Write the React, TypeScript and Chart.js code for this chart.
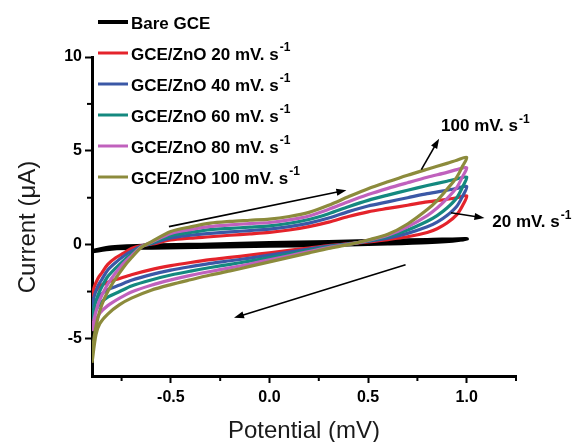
import React, { useEffect, useRef } from 'react';
import { Chart, registerables } from 'chart.js';
Chart.register(...registerables);

// ---- data (potential in mV axis units, current in µA) ----
const forwardPotential = [-0.9, -0.89, -0.87, -0.85, -0.82, -0.78, -0.74, -0.7, -0.65, -0.6, -0.5, -0.4, -0.3, -0.2, -0.1, 0.0, 0.1, 0.2, 0.3, 0.4, 0.5, 0.6, 0.7, 0.8, 0.9, 0.95, 1.0];
const reversePotential = [1.0, 0.98, 0.95, 0.9, 0.85, 0.8, 0.7, 0.6, 0.5, 0.4, 0.3, 0.2, 0.1, 0.0, -0.1, -0.2, -0.3, -0.4, -0.5, -0.6, -0.7, -0.76, -0.82, -0.86, -0.88, -0.9];

const fwd20 = [-2.8, -2.3, -1.8, -1.5, -1.05, -0.7, -0.45, -0.2, -0.05, 0.02, 0.25, 0.35, 0.42, 0.5, 0.57, 0.65, 0.78, 0.96, 1.2, 1.5, 1.75, 1.93, 2.1, 2.28, 2.42, 2.5, 2.6];
const rev20 = [2.6, 2.1, 1.6, 1.15, 0.85, 0.65, 0.42, 0.27, 0.15, 0.05, -0.05, -0.18, -0.3, -0.43, -0.56, -0.68, -0.8, -0.95, -1.12, -1.33, -1.6, -1.8, -2.0, -2.2, -2.45, -2.8];
const fwd40 = [-3.4, -2.8, -2.2, -1.85, -1.35, -0.95, -0.62, -0.35, -0.08, 0.05, 0.36, 0.5, 0.6, 0.68, 0.75, 0.83, 0.96, 1.15, 1.42, 1.76, 2.06, 2.28, 2.5, 2.72, 2.9, 3.0, 3.1];
const rev40 = [3.1, 2.6, 2.05, 1.55, 1.2, 0.95, 0.6, 0.35, 0.18, 0.04, -0.08, -0.24, -0.4, -0.56, -0.72, -0.86, -1.0, -1.17, -1.36, -1.6, -1.9, -2.15, -2.4, -2.7, -3.0, -3.4];
const fwd60 = [-4.0, -3.4, -2.7, -2.25, -1.7, -1.25, -0.85, -0.5, -0.1, 0.08, 0.48, 0.65, 0.8, 0.87, 0.93, 1.0, 1.14, 1.34, 1.65, 2.02, 2.36, 2.64, 2.9, 3.15, 3.38, 3.5, 3.6];
const rev60 = [3.6, 3.1, 2.5, 1.95, 1.55, 1.25, 0.78, 0.43, 0.2, 0.03, -0.11, -0.3, -0.5, -0.69, -0.88, -1.05, -1.22, -1.41, -1.62, -1.88, -2.2, -2.5, -2.8, -3.15, -3.5, -4.0];
const fwd80 = [-4.6, -4.0, -3.2, -2.7, -2.1, -1.5, -1.0, -0.6, -0.12, 0.12, 0.6, 0.8, 0.97, 1.05, 1.12, 1.18, 1.32, 1.53, 1.88, 2.29, 2.67, 3.0, 3.3, 3.59, 3.85, 4.0, 4.1];
const rev80 = [4.1, 3.65, 3.05, 2.45, 1.95, 1.55, 0.95, 0.5, 0.23, 0.02, -0.15, -0.37, -0.59, -0.81, -1.03, -1.24, -1.43, -1.64, -1.88, -2.16, -2.52, -2.85, -3.25, -3.65, -4.1, -4.6];
const fwd100 = [-6.3, -5.0, -3.9, -3.2, -2.5, -1.8, -1.2, -0.7, -0.15, 0.15, 0.7, 0.95, 1.15, 1.24, 1.3, 1.36, 1.5, 1.72, 2.1, 2.55, 2.98, 3.35, 3.7, 4.02, 4.33, 4.5, 4.65];
const rev100 = [4.65, 4.2, 3.6, 2.95, 2.35, 1.87, 1.1, 0.55, 0.25, 0.0, -0.2, -0.44, -0.68, -0.92, -1.16, -1.4, -1.62, -1.87, -2.13, -2.43, -2.85, -3.2, -3.7, -4.2, -4.8, -6.3];

const bareForwardPotential = [-0.9, -0.8, -0.6, -0.3, 0.0, 0.3, 0.6, 0.8, 1.0];
const bareForward = [-0.35, -0.15, -0.05, 0.0, 0.07, 0.13, 0.2, 0.24, 0.28];
const bareReversePotential = [1.0, 0.8, 0.6, 0.3, 0.0, -0.3, -0.6, -0.8, -0.9];
const bareReverse = [0.28, 0.14, 0.07, 0.0, -0.05, -0.1, -0.15, -0.2, -0.35];

const seriesLabels = ['Bare GCE', 'GCE/ZnO 20 mV. s', 'GCE/ZnO 40 mV. s', 'GCE/ZnO 60 mV. s', 'GCE/ZnO 80 mV. s', 'GCE/ZnO 100 mV. s'];
const seriesColors = ['#000000', '#e4232b', '#3b58a6', '#14897f', '#c061bd', '#8c8b3c'];

const xMajorTicks = [-0.5, 0.0, 0.5, 1.0];
const xMinorTicks = [-0.75, -0.25, 0.25, 0.75, 1.25];
const yMajorTicks = [-5, 0, 5, 10];
const yMinorTicks = [-2.5, 2.5, 7.5];

// annotations (data coordinates)
const arrowList = [
  { from: [-0.51, 0.96], to: [0.39, 2.9] },
  { from: [0.69, -1.07], to: [-0.18, -3.9] },
  { from: [0.77, 4.0], to: [0.86, 5.65] },
  { from: [0.92, 1.7], to: [1.09, 1.42] },
];
const annotationTexts = [
  { text: '100 mV. s', at: [0.87, 6.05] },
  { text: '20 mV. s', at: [1.13, 0.96] },
];

const FONT = '"Liberation Sans", Arial, Helvetica, sans-serif';

function loop(fp: number[], fy: number[], rp: number[], ry: number[]) {
  const pts = fp.map((x, i) => ({ x, y: fy[i] }));
  rp.forEach((x, i) => {
    if (i === 0) return;
    pts.push({ x, y: ry[i] });
  });
  return pts;
}

function drawArrow(ctx: CanvasRenderingContext2D, x1: number, y1: number, x2: number, y2: number) {
  const head = 10, w = 3.5;
  const a = Math.atan2(y2 - y1, x2 - x1);
  ctx.beginPath();
  ctx.moveTo(x1, y1);
  ctx.lineTo(x2 - Math.cos(a) * head * 0.8, y2 - Math.sin(a) * head * 0.8);
  ctx.stroke();
  ctx.beginPath();
  ctx.moveTo(x2, y2);
  ctx.lineTo(x2 - head * Math.cos(a) + w * Math.sin(a), y2 - head * Math.sin(a) - w * Math.cos(a));
  ctx.lineTo(x2 - head * Math.cos(a) - w * Math.sin(a), y2 - head * Math.sin(a) + w * Math.cos(a));
  ctx.closePath();
  ctx.fill();
}

const extrasPlugin = {
  id: 'extras',
  afterDraw(chart: any) {
    const ctx: CanvasRenderingContext2D = chart.ctx;
    const xs = chart.scales.x, ys = chart.scales.y;
    const area = chart.chartArea;
    ctx.save();
    // minor ticks
    ctx.strokeStyle = '#000';
    ctx.lineWidth = 2;
    xMinorTicks.forEach((v) => {
      const px = xs.getPixelForValue(v);
      ctx.beginPath();
      ctx.moveTo(px, area.bottom);
      ctx.lineTo(px, area.bottom + 5);
      ctx.stroke();
    });
    yMinorTicks.forEach((v) => {
      const py = ys.getPixelForValue(v);
      ctx.beginPath();
      ctx.moveTo(area.left, py);
      ctx.lineTo(area.left - 5, py);
      ctx.stroke();
    });
    // arrows
    ctx.strokeStyle = '#000';
    ctx.fillStyle = '#000';
    ctx.lineWidth = 1.6;
    arrowList.forEach((a) => {
      drawArrow(ctx, xs.getPixelForValue(a.from[0]), ys.getPixelForValue(a.from[1]),
        xs.getPixelForValue(a.to[0]), ys.getPixelForValue(a.to[1]));
    });
    // annotation texts
    ctx.textBaseline = 'alphabetic';
    ctx.textAlign = 'left';
    annotationTexts.forEach((t) => {
      const px = xs.getPixelForValue(t.at[0]);
      const py = ys.getPixelForValue(t.at[1]);
      ctx.font = `bold 17px ${FONT}`;
      ctx.fillText(t.text, px, py);
      const w = ctx.measureText(t.text).width;
      ctx.font = `bold 12px ${FONT}`;
      ctx.fillText('-1', px + w + 1, py - 8);
    });
    // legend
    const rows = [22, 53, 84, 115, 146, 177];
    chart.data.datasets.forEach((ds: any, i: number) => {
      const cy = rows[i];
      ctx.strokeStyle = ds.borderColor;
      ctx.lineWidth = i === 0 ? 4 : 3;
      ctx.beginPath();
      ctx.moveTo(98, cy);
      ctx.lineTo(128, cy);
      ctx.stroke();
      ctx.fillStyle = '#000';
      ctx.font = `bold 17px ${FONT}`;
      ctx.fillText(ds.label, 131, cy + 6.5);
      if (i > 0) {
        const w = ctx.measureText(ds.label).width;
        ctx.font = `bold 12px ${FONT}`;
        ctx.fillText('-1', 131 + w + 1, cy - 2);
      }
    });
    // axis titles
    ctx.fillStyle = '#1a1a1a';
    ctx.font = `24px ${FONT}`;
    ctx.textAlign = 'center';
    ctx.fillText('Potential (mV)', (area.left + area.right) / 2, 438);
    ctx.save();
    ctx.translate(35, 227);
    ctx.rotate(-Math.PI / 2);
    ctx.fillText('Current (\u03BCA)', 0, 0);
    ctx.restore();
    ctx.restore();
  },
};

export default function App() {
  const ref = useRef<HTMLCanvasElement | null>(null);
  useEffect(() => {
    if (!ref.current) return;
    const curves = [
      loop(bareForwardPotential, bareForward, bareReversePotential, bareReverse),
      loop(forwardPotential, fwd20, reversePotential, rev20),
      loop(forwardPotential, fwd40, reversePotential, rev40),
      loop(forwardPotential, fwd60, reversePotential, rev60),
      loop(forwardPotential, fwd80, reversePotential, rev80),
      loop(forwardPotential, fwd100, reversePotential, rev100),
    ];
    const orders = [5, 4, 3, 2, 1, 0];
    const chart = new Chart(ref.current, {
      type: 'scatter',
      data: {
        datasets: curves.map((d, i) => ({
          label: seriesLabels[i],
          data: d,
          showLine: true,
          borderColor: seriesColors[i],
          backgroundColor: seriesColors[i],
          borderWidth: i === 0 ? 4.5 : 3.2,
          pointRadius: 0,
          tension: 0.3,
          fill: false,
          order: orders[i],
        })),
      },
      options: {
        animation: false,
        responsive: true,
        maintainAspectRatio: false,
        layout: { padding: { left: 0, right: 59, top: 57, bottom: 0 } },
        plugins: { legend: { display: false }, tooltip: { enabled: false } },
        scales: {
          x: {
            type: 'linear',
            position: 'bottom',
            min: -0.9,
            max: 1.25,
            afterBuildTicks: (s: any) => { s.ticks = xMajorTicks.map((v) => ({ value: v })); },
            afterFit: (s: any) => { s.height = 66; },
            ticks: {
              autoSkip: false,
              maxRotation: 0,
              padding: 5,
              color: '#000',
              font: { family: FONT, size: 16, weight: 'bold' },
              callback: (v: any) => Number(v).toFixed(1),
            },
            grid: { drawOnChartArea: false, drawTicks: true, tickLength: 7, tickColor: '#000', tickWidth: 2 },
            border: { color: '#000', width: 3 },
          },
          y: {
            type: 'linear',
            position: 'left',
            min: -7,
            max: 10,
            afterBuildTicks: (s: any) => { s.ticks = yMajorTicks.map((v) => ({ value: v })); },
            afterFit: (s: any) => { s.width = 92; },
            ticks: {
              autoSkip: false,
              padding: 3,
              color: '#000',
              font: { family: FONT, size: 16, weight: 'bold' },
              callback: (v: any) => String(v),
            },
            grid: { drawOnChartArea: false, drawTicks: true, tickLength: 7, tickColor: '#000', tickWidth: 2 },
            border: { color: '#000', width: 3 },
          },
        },
      },
      plugins: [extrasPlugin],
    } as any);
    return () => chart.destroy();
  }, []);
  return (
    <div style={{ position: 'fixed', left: 0, top: 0, width: 575, height: 442, background: '#fff' }}>
      <canvas ref={ref} />
    </div>
  );
}
